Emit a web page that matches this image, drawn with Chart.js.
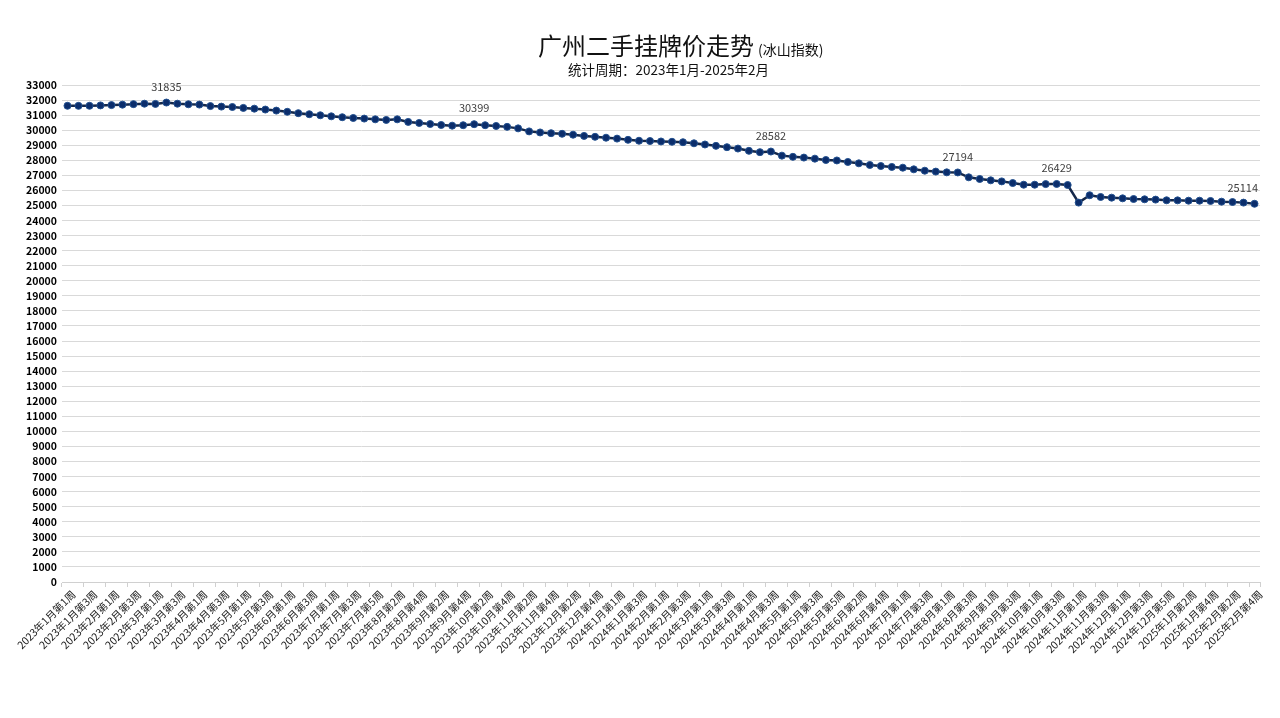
<!DOCTYPE html>
<html>
<head>
<meta charset="utf-8">
<script src="https://cdn.jsdelivr.net/npm/chart.js@4"></script>
<style>
  body { margin: 0; background: #fff; font-family: "Noto Sans CJK SC", sans-serif; }
  #wrap { position: relative; width: 1280px; height: 718px; }
  #title { position: absolute; left: 538px; top: 30px; font-size: 24px; line-height: 30px; color: #111; white-space: nowrap; }
  #title span { font-size: 14px; margin-left: 4px; }
  #sub { position: absolute; left: 568px; top: 59px; font-size: 13.5px; line-height: 20px; color: #111; white-space: nowrap; }
</style>
</head>
<body>
<div id="wrap">
  <canvas id="c" width="1280" height="718"></canvas>
  <div id="title">广州二手挂牌价走势<span>(冰山指数)</span></div>
  <div id="sub">统计周期：2023年1月-2025年2月</div>
</div>
<script>
// weekly labels, 2023-01 W1 .. 2025-02 W4
const weeks = [
  '2023年1月第1周','2023年1月第2周','2023年1月第3周','2023年1月第4周',
  '2023年2月第1周','2023年2月第2周','2023年2月第3周','2023年2月第4周',
  '2023年3月第1周','2023年3月第2周','2023年3月第3周','2023年3月第4周',
  '2023年4月第1周','2023年4月第2周','2023年4月第3周','2023年4月第4周',
  '2023年5月第1周','2023年5月第2周','2023年5月第3周','2023年5月第4周',
  '2023年6月第1周','2023年6月第2周','2023年6月第3周','2023年6月第4周',
  '2023年7月第1周','2023年7月第2周','2023年7月第3周','2023年7月第4周','2023年7月第5周',
  '2023年8月第1周','2023年8月第2周','2023年8月第3周','2023年8月第4周',
  '2023年9月第1周','2023年9月第2周','2023年9月第3周','2023年9月第4周',
  '2023年10月第1周','2023年10月第2周','2023年10月第3周','2023年10月第4周',
  '2023年11月第1周','2023年11月第2周','2023年11月第3周','2023年11月第4周',
  '2023年12月第1周','2023年12月第2周','2023年12月第3周','2023年12月第4周','2023年12月第5周',
  '2024年1月第1周','2024年1月第2周','2024年1月第3周','2024年1月第4周',
  '2024年2月第1周','2024年2月第2周','2024年2月第3周','2024年2月第4周',
  '2024年3月第1周','2024年3月第2周','2024年3月第3周','2024年3月第4周',
  '2024年4月第1周','2024年4月第2周','2024年4月第3周','2024年4月第4周',
  '2024年5月第1周','2024年5月第2周','2024年5月第3周','2024年5月第4周','2024年5月第5周',
  '2024年6月第1周','2024年6月第2周','2024年6月第3周','2024年6月第4周','2024年6月第5周',
  '2024年7月第1周','2024年7月第2周','2024年7月第3周','2024年7月第4周',
  '2024年8月第1周','2024年8月第2周','2024年8月第3周','2024年8月第4周',
  '2024年9月第1周','2024年9月第2周','2024年9月第3周','2024年9月第4周',
  '2024年10月第1周','2024年10月第2周','2024年10月第3周','2024年10月第4周',
  '2024年11月第1周','2024年11月第2周','2024年11月第3周','2024年11月第4周',
  '2024年12月第1周','2024年12月第2周','2024年12月第3周','2024年12月第4周','2024年12月第5周',
  '2025年1月第1周','2025年1月第2周','2025年1月第3周','2025年1月第4周',
  '2025年2月第1周','2025年2月第2周','2025年2月第3周','2025年2月第4周'
];

// listing price index (元/㎡)
const prices = [
  31620, 31615, 31620, 31645, 31665, 31695, 31730, 31760, 31745, 31835,
  31760, 31720, 31700, 31600, 31565, 31540, 31480, 31430, 31370, 31300,
  31220, 31130, 31060, 30990, 30920, 30860, 30810, 30770, 30720, 30680,
  30720, 30550, 30480, 30410, 30345, 30300, 30330, 30399, 30330, 30280,
  30220, 30120, 29920, 29850, 29800, 29760, 29700, 29620, 29560, 29500,
  29440, 29360, 29300, 29280, 29250, 29230, 29200, 29130, 29050, 28960,
  28870, 28780, 28630, 28540, 28582, 28310, 28230, 28180, 28110, 28020,
  27990, 27890, 27800, 27690, 27620, 27560, 27510, 27400, 27310, 27250,
  27200, 27194, 26870, 26760, 26670, 26600, 26490, 26380, 26380, 26420,
  26429, 26360, 25190, 25680, 25565, 25520, 25475, 25430, 25410, 25390,
  25345, 25340, 25320, 25320, 25300, 25255, 25230, 25190, 25114
];

// points that carry a value label
const labelIdx = [9, 37, 64, 81, 90, 108];

const yMin = 0, yMax = 33000, yStep = 1000;

const pointLabels = {
  id: 'pointLabels',
  afterDatasetsDraw(chart) {
    const ctx = chart.ctx;
    const meta = chart.getDatasetMeta(0);
    ctx.save();
    ctx.font = '11px "Noto Sans CJK SC", sans-serif';
    ctx.fillStyle = '#404040';
    ctx.textAlign = 'center';
    ctx.textBaseline = 'middle';
    labelIdx.forEach(i => {
      const pt = meta.data[i];
      const txt = String(prices[i]);
      const half = ctx.measureText(txt).width / 2;
      // keep the label inside the plot like the original
      const x = Math.min(pt.x, chart.chartArea.right - half - 2);
      ctx.fillText(txt, x, pt.y - 16);
    });
    ctx.restore();
  }
};

new Chart(document.getElementById('c'), {
  type: 'line',
  data: {
    labels: weeks,
    datasets: [{
      data: prices,
      borderColor: '#15284a',
      borderWidth: 2.5,
      pointRadius: 3.5,
      pointBackgroundColor: '#0b2d6b',
      pointBorderColor: '#22508f',
      pointBorderWidth: 1,
      tension: 0
    }]
  },
  options: {
    responsive: false,
    devicePixelRatio: 1,
    animation: false,
    layout: {padding: {top: 85, right: 20, left: 0, bottom: 0}},
    plugins: {legend: {display: false}, tooltip: {enabled: false}},
    scales: {
      x: {
        offset: true,
        afterFit: s => { s.height = 136; },
        grid: {
          drawOnChartArea: false,
          tickLength: 5,
          offset: true,
          tickColor: c => (c.index % 2 ? 'rgba(0,0,0,0)' : '#d0d0d0')
        },
        border: {color: '#d0d0d0'},
        ticks: {
          autoSkip: false,
          maxRotation: 45,
          minRotation: 45,
          padding: 1,
          labelOffset: 6,
          color: '#222',
          font: {size: 10.5, family: '"Noto Sans CJK SC", sans-serif'},
          callback: function(v, i) { return i % 2 ? '' : this.getLabelForValue(v); }
        }
      },
      y: {
        min: yMin,
        max: yMax,
        afterFit: s => { s.width = 62; },
        grid: {color: '#d9d9d9', drawTicks: false},
        border: {display: false},
        ticks: {
          stepSize: yStep,
          autoSkip: false,
          maxTicksLimit: 40,
          padding: 5,
          color: '#000',
          font: {size: 10.5, weight: 'bold', family: '"Noto Sans CJK SC", sans-serif'},
          callback: v => String(v)
        }
      }
    }
  },
  plugins: [pointLabels]
});
</script>
</body>
</html>
